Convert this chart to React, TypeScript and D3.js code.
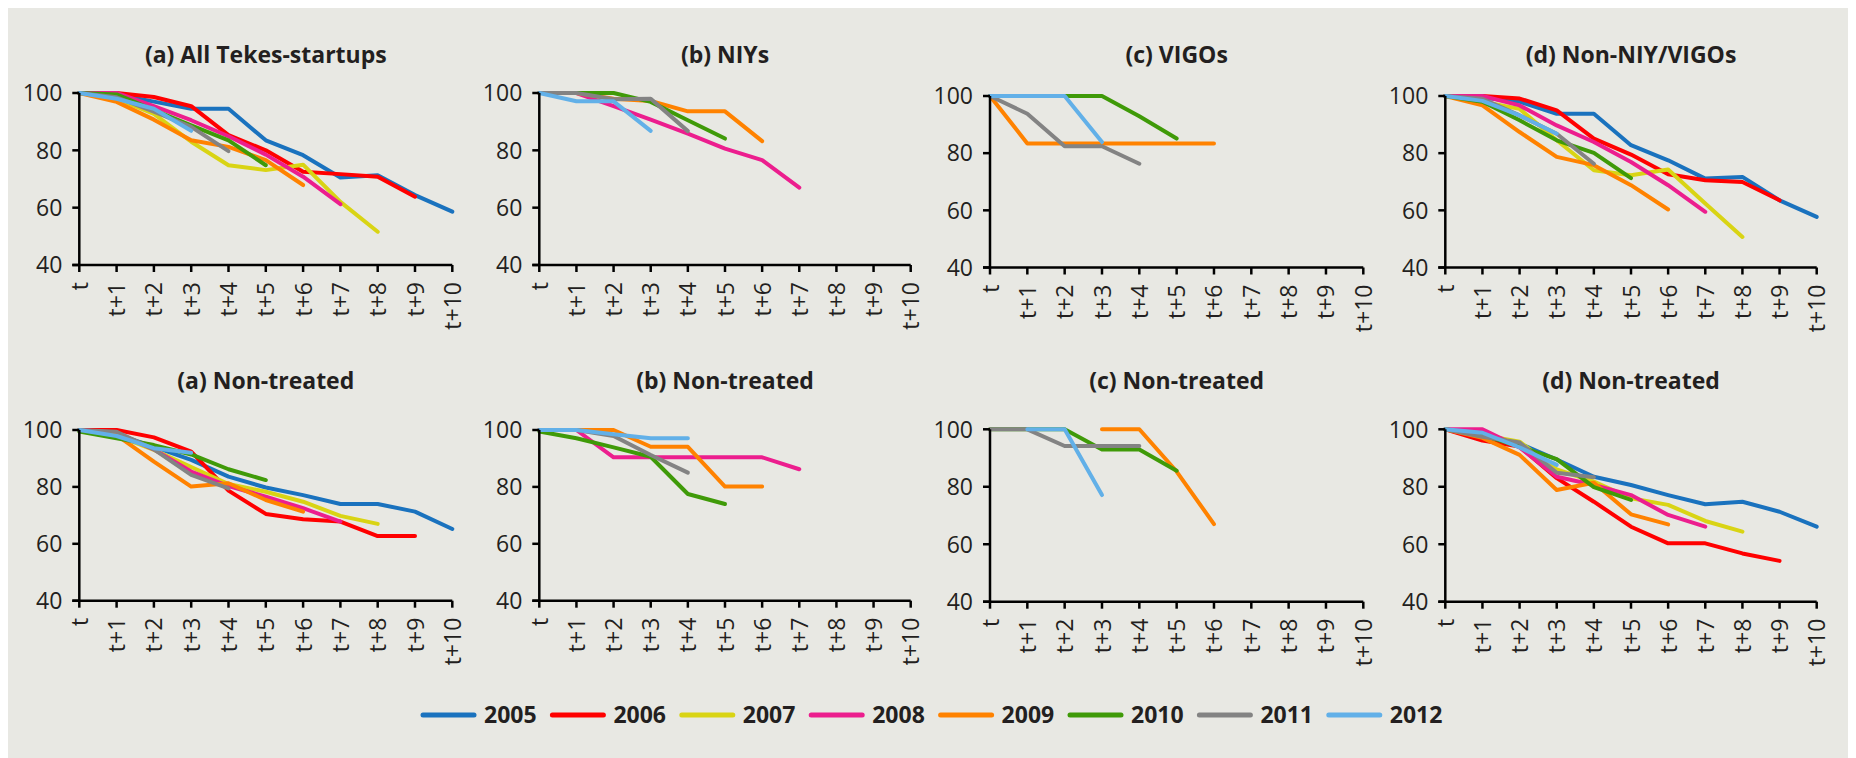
import React from "react";
import * as d3 from "d3";

const years = ["2005", "2006", "2007", "2008", "2009", "2010", "2011", "2012"];
const colors = ["#1A72BE", "#FF0000", "#D9D414", "#EC1E8E", "#FF8200", "#3F9A08", "#838383", "#62B0E8"];
const xLabels = ["t", "t+1", "t+2", "t+3", "t+4", "t+5", "t+6", "t+7", "t+8", "t+9", "t+10"];
const yTicks = [40, 60, 80, 100];

type S = (number | null)[];
const _ = null;

// (a) All Tekes-startups
const allTekes: S[] = [
  [100, 99.5, 97, 94.5, 94.5, 83.5, 78.3, 70.5, 71.3, 64.4, 58.6],
  [100, 100, 98.6, 95.4, 85.3, 80, 72.5, 71.7, 70.8, 63.8],
  [100, 98, 92.7, 83, 74.8, 73.1, 75, 62, 51.6],
  [100, 100, 95.4, 90.5, 84.9, 78.5, 70.8, 61.2],
  [100, 96.9, 90.7, 83.5, 81.2, 76.6, 67.9],
  [100, 99.5, 94, 88.7, 83.5, 74.8],
  [100, 98.5, 93.5, 88.2, 79.7],
  [100, 98, 94.5, 86.8],
];
// (b) NIYs
const niys: S[] = [
  [],
  [],
  [],
  [100, 100, 95.4, 90.7, 85.8, 80.6, 76.6, 67],
  [100, 100, 98, 97.2, 93.6, 93.6, 83.2],
  [100, 100, 100, 96.9, 90.5, 84.1],
  [100, 100, 97.8, 98, 86.7],
  [100, 97.1, 97.1, 86.8],
];
// (c) VIGOs
const vigos: S[] = [
  [],
  [],
  [],
  [],
  [100, 83.4, 83.4, 83.4, 83.4, 83.4, 83.4],
  [100, 100, 100, 100, 92.9, 85.1],
  [100, 93.8, 82.4, 82.4, 76.3],
  [100, 100, 100, 83.9],
];
// (d) Non-NIY/VIGOs
const nonNiyVigos: S[] = [
  [100, 99.5, 98, 93.8, 93.8, 82.8, 77.5, 71.1, 71.7, 63.5, 57.7],
  [100, 100, 99.1, 95, 85.1, 79.5, 72.6, 70.5, 69.9, 63.5],
  [100, 98, 95.5, 84.5, 74, 72.3, 74.3, 62.4, 50.7],
  [100, 100, 96.7, 89.7, 83.9, 76.9, 68.8, 59.5],
  [100, 96.7, 87.4, 78.7, 75.8, 68.8, 60.3],
  [100, 98, 91.5, 84.5, 80.1, 71.3],
  [100, 99, 93.2, 86.8, 76.3],
  [100, 98.3, 93.2, 86.8],
];
// (a) Non-treated
const nonTreatedA: S[] = [
  [100, 98.5, 94.1, 89.5, 83.6, 79.8, 77.1, 74, 74, 71.3, 65.2],
  [100, 100, 97.4, 92.4, 78.7, 70.5, 68.6, 67.8, 62.7, 62.7],
  [100, 98, 93, 87, 81, 78.3, 74.8, 69.8, 67],
  [100, 99, 93.2, 85.4, 80.3, 76.6, 72.5, 67.8],
  [100, 98.2, 88.9, 80.1, 81.3, 75.4, 71.3],
  [99.5, 97.1, 94.7, 91.4, 86.2, 82.4],
  [100, 99.4, 93.2, 84.2, 79.5],
  [100, 97.9, 93.6, 92],
];
// (b) Non-treated
const nonTreatedB: S[] = [
  [],
  [],
  [],
  [100, 100, 90.4, 90.4, 90.4, 90.4, 90.4, 86.2],
  [100, 100, 100, 94.1, 94.1, 80.1, 80.1],
  [99.5, 97.1, 93.9, 90.6, 77.5, 74],
  [100, 100, 97.9, 91.2, 85],
  [100, 100, 98.5, 97.1, 97.1],
];
// (c) Non-treated
const nonTreatedC: S[] = [
  [],
  [],
  [],
  [],
  [_, _, _, 100, 100, 85.3, 67],
  [100, 100, 100, 93, 93, 85.6],
  [100, 100, 94.2, 94.2, 94.2],
  [_, 100, 100, 77.1],
];
// (d) Non-treated
const nonTreatedD: S[] = [
  [100, 98.5, 95, 89.5, 83.5, 80.6, 77.1, 73.9, 74.8, 71.3, 66.1],
  [100, 96.1, 94, 83, 74.8, 66.1, 60.3, 60.3, 56.8, 54.2],
  [100, 98, 95.7, 86, 81.8, 76, 73.7, 68.1, 64.4],
  [100, 100, 93.7, 83.5, 80.6, 77.1, 70.2, 66.1],
  [100, 97, 91.1, 78.9, 81.4, 70.4, 66.9],
  [100, 98, 94, 89.6, 79.9, 75.4],
  [100, 97.4, 95.4, 84.9, 83.3],
  [100, 98.8, 93.7, 87.6],
];

const titles = [
  "(a) All Tekes-startups", "(b) NIYs", "(c) VIGOs", "(d) Non-NIY/VIGOs",
  "(a) Non-treated", "(b) Non-treated", "(c) Non-treated", "(d) Non-treated",
];
const panelData = [allTekes, niys, vigos, nonNiyVigos, nonTreatedA, nonTreatedB, nonTreatedC, nonTreatedD];

// layout (absolute page coordinates)
const colX: [number, number][] = [[79.3, 452.3], [539.3, 910.7], [990, 1363.3], [1445.3, 1816.7]];
const rowY: [number, number][][] = [
  [[265, 93], [265, 93], [267.5, 96], [267.5, 96]],
  [[600.7, 430], [600.7, 430], [601.7, 429.3], [601.7, 429.3]],
];
const titleY = [63, 389];

const FONT = "'Open Sans', 'DejaVu Sans', sans-serif";
const TEXT = "#231F20";

function Panel({ idx }: { idx: number }) {
  const row = Math.floor(idx / 4);
  const col = idx % 4;
  const [x0, x1] = colX[col];
  const [yb, yt] = rowY[row][col];
  const x = d3.scaleLinear().domain([0, 10]).range([x0, x1]);
  const y = d3.scaleLinear().domain([40, 100]).range([yb, yt]);
  const line = d3
    .line<number | null>()
    .defined((d) => d != null)
    .x((_d, i) => x(i))
    .y((d) => y(d as number));
  const data = panelData[idx];
  return (
    <g>
      <text
        x={(x0 + x1) / 2}
        y={titleY[row]}
        textAnchor="middle"
        fontFamily={FONT}
        fontWeight="bold"
        fontSize={23}
        fill={TEXT}
      >
        {titles[idx]}
      </text>
      {data.map((s, i) =>
        s.length ? (
          <path
            key={i}
            d={line(s) || ""}
            fill="none"
            stroke={colors[i]}
            strokeWidth={4}
            strokeLinecap="round"
            strokeLinejoin="round"
          />
        ) : null
      )}
      <line x1={x0} x2={x0} y1={yt} y2={yb} stroke="#000" strokeWidth={2.5} />
      <line x1={x0 - 7} x2={x1} y1={yb} y2={yb} stroke="#000" strokeWidth={2.5} />
      {yTicks.map((t) => (
        <g key={t}>
          <line x1={x0 - 7} x2={x0} y1={y(t)} y2={y(t)} stroke="#000" strokeWidth={2.5} />
          <text
            x={x0 - 17}
            y={y(t)}
            dy="0.36em"
            textAnchor="end"
            fontFamily={FONT}
            fontSize={23}
            fill={TEXT}
          >
            {t}
          </text>
        </g>
      ))}
      {xLabels.map((l, i) => (
        <g key={l}>
          <line x1={x(i)} x2={x(i)} y1={yb} y2={yb + 7} stroke="#000" strokeWidth={2.5} />
          <text
            transform={`translate(${x(i)},${yb + 17}) rotate(-90)`}
            dy="0.37em"
            textAnchor="end"
            fontFamily={FONT}
            fontSize={23}
            fill={TEXT}
          >
            {l}
          </text>
        </g>
      ))}
    </g>
  );
}

export default function App() {
  const legendX0 = 421;
  const legendStep = 129.4;
  const legendY = 715;
  return (
    <svg width={1848} height={750} style={{ display: "block" }}>
      <g transform="translate(-8,-8)">
        <rect x={8} y={8} width={1848} height={750} fill="#E8E8E3" />
        {panelData.map((_d, i) => (
          <Panel key={i} idx={i} />
        ))}
        {years.map((yr, i) => {
          const lx = legendX0 + i * legendStep;
          return (
            <g key={yr}>
              <line
                x1={lx + 2}
                x2={lx + 53}
                y1={legendY}
                y2={legendY}
                stroke={colors[i]}
                strokeWidth={5}
                strokeLinecap="round"
              />
              <text
                x={lx + 63}
                y={legendY}
                dy="0.36em"
                fontFamily={FONT}
                fontWeight="bold"
                fontSize={23}
                fill={TEXT}
              >
                {yr}
              </text>
            </g>
          );
        })}
      </g>
    </svg>
  );
}
